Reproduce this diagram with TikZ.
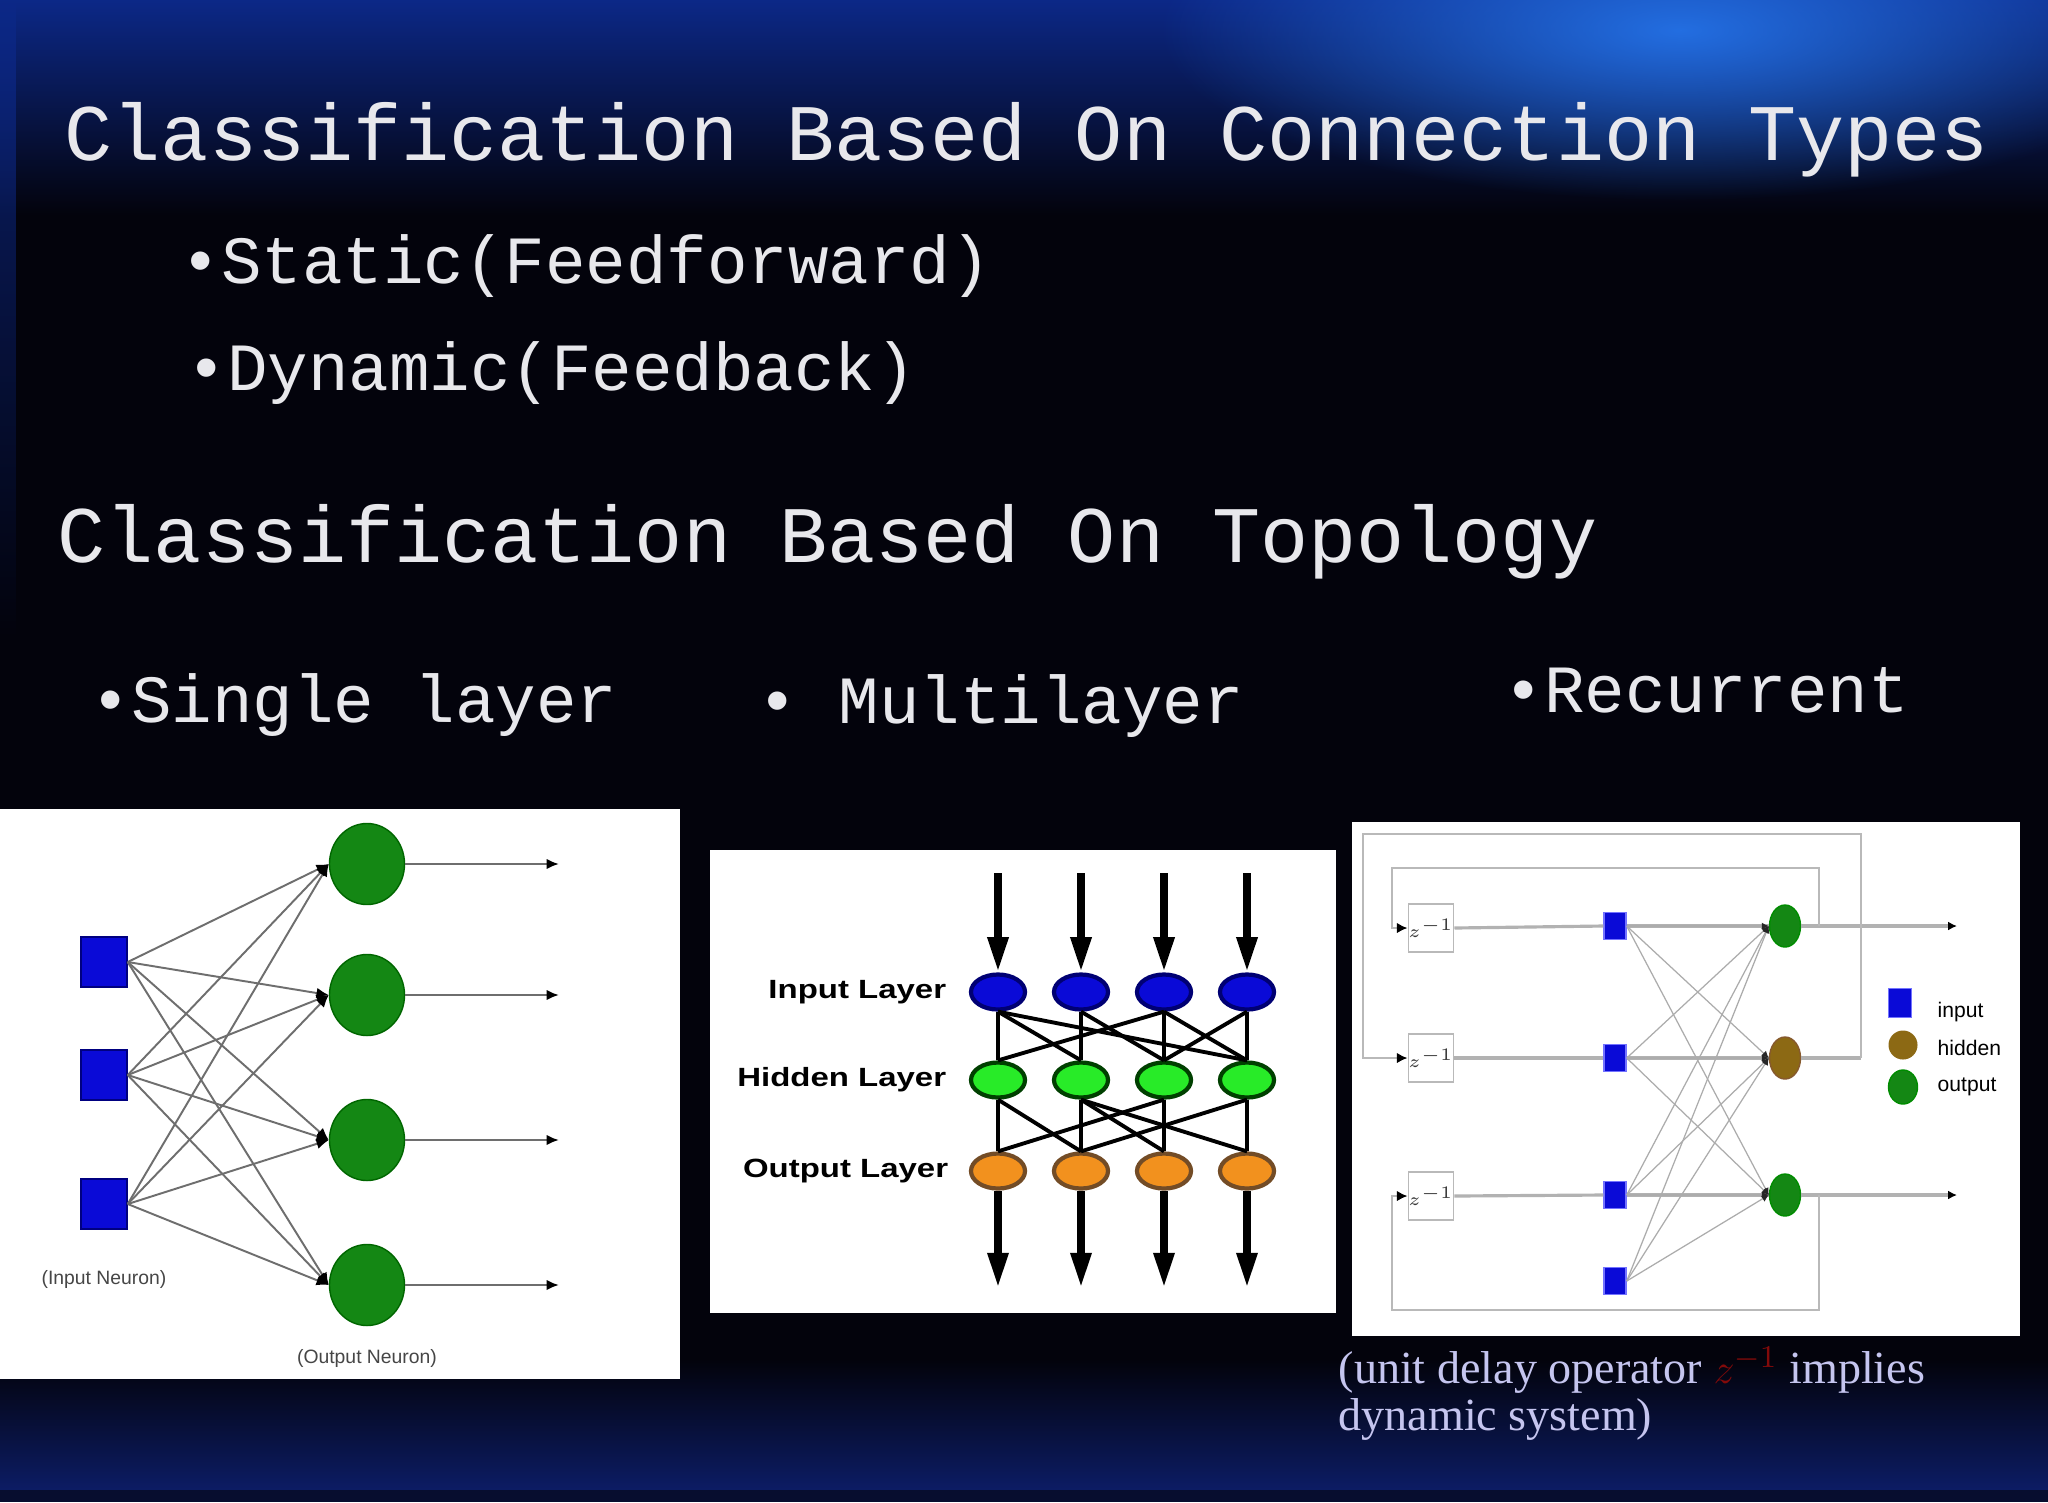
\documentclass[tikz,border=0pt]{standalone}
\usepackage{fontspec}
\usepackage{amsmath}
\usetikzlibrary{shapes,arrows.meta,positioning,calc,fadings}
\setmainfont{Liberation Serif}
\newfontfamily\slidefont{Liberation Mono}
\newfontfamily\figfont{Liberation Sans}
\newfontfamily\layerfont[FakeStretch=1.25]{Liberation Sans}
\definecolor{slidebg}{RGB}{3,3,12}
\definecolor{slideblue}{RGB}{12,40,135}
\definecolor{glowblue}{RGB}{35,110,225}
\definecolor{footblue}{RGB}{12,28,100}
\definecolor{slidetext}{RGB}{232,232,236}
\definecolor{neuronblue}{RGB}{10,10,215}
\definecolor{neurongreen}{RGB}{20,135,20}
\definecolor{hiddengreen}{RGB}{40,235,40}
\definecolor{layerorange}{RGB}{242,145,30}
\definecolor{hiddenbrown}{RGB}{140,105,20}
\definecolor{wiregray}{RGB}{110,110,110}
\definecolor{delayred}{RGB}{130,10,10}
\tikzfading[name=glowfade, inner color=transparent!0, outer color=transparent!100]
\tikzfading[name=stripfade, top color=transparent!20, bottom color=transparent!100]

\begin{document}
\begin{tikzpicture}[x=0.01cm, y=-0.01cm,
    heading/.style={anchor=base west, inner sep=0, text=slidetext, font=\slidefont\fontsize{22.8}{26}\selectfont},
    bulletitem/.style={anchor=base west, inner sep=0, text=slidetext, font=\slidefont\fontsize{19.2}{22}\selectfont},
    inneuron/.style={rectangle, fill=neuronblue, draw=blue!50!black, minimum width=0.46cm, minimum height=0.5cm, inner sep=0},
    outneuron/.style={ellipse, fill=neurongreen, draw=green!40!black, minimum width=0.75cm, minimum height=0.81cm, inner sep=0},
    synapse/.style={draw=wiregray, line width=0.55pt, -{Latex[length=3.5pt,width=3pt,color=black]}},
    axon/.style={draw=wiregray, line width=0.7pt, -{Latex[length=3.5pt,width=3pt,color=black]}},
    figlabel/.style={inner sep=0, text=gray!55!black, font=\figfont\fontsize{5.5}{6}\selectfont},
    layernode/.style={ellipse, minimum width=0.54cm, minimum height=0.35cm, inner sep=0, line width=1.2pt},
    layerlabel/.style={inner sep=0, font=\layerfont\bfseries\fontsize{7.5}{9}\selectfont},
    weight/.style={line width=1.1pt, black},
    flow/.style={line width=2.2pt, black, -{Triangle[length=10pt,width=5.5pt]}},
    delaybox/.style={rectangle, draw=gray!55, fill=white, minimum width=0.41cm, minimum height=0.48cm, inner sep=0, font=\fontsize{4.5}{5}\selectfont, text=gray!45!black},
    rinput/.style={rectangle, fill=neuronblue, draw=blue!55, minimum width=0.22cm, minimum height=0.27cm, inner sep=0},
    rnode/.style={ellipse, minimum width=0.31cm, minimum height=0.42cm, inner sep=0},
    rwire/.style={draw=gray!65, line width=0.35pt, -{Latex[length=2pt,width=2pt,color=gray!30!black]}},
    rrow/.style={draw=gray!60, line width=0.9pt},
    feedback/.style={draw=gray!55, line width=0.7pt, -{Latex[length=3pt,width=3pt,color=black]}},
    keytext/.style={anchor=west, inner sep=0, font=\figfont\fontsize{6}{7}\selectfont},
    caption/.style={anchor=base west, inner sep=0, text=slidetext!85!blue, font=\fontsize{13.1}{15}\selectfont}
]
    \useasboundingbox (0,0) rectangle (2048,1502);

    % Slide background
    \fill[slidebg] (0,0) rectangle (2048,1502);
    \shade[top color=slideblue, bottom color=slidebg] (0,0) rectangle (2048,215);
    \fill[glowblue, path fading=glowfade] (1680,30) ellipse [x radius=520, y radius=170];
    \fill[slideblue, path fading=stripfade] (0,0) rectangle (16,640);
    \shade[top color=slidebg, bottom color=footblue] (0,1360) rectangle (2048,1490);
    \fill[slidebg!60!footblue] (0,1490) rectangle (2048,1502);

    % Headings and bullets
    \node[heading] (conntitle) at (64,160) {Classification Based On Connection Types};
    \node[bulletitem] (static) at (180,283) {•Static(Feedforward)};
    \node[bulletitem] (dynamic) at (186,390) {•Dynamic(Feedback)};
    \node[heading] (topotitle) at (57,562) {Classification Based On Topology};
    \node[bulletitem] (single) at (90,722) {•Single layer};
    \node[bulletitem] (multi) at (757,723) {• Multilayer};
    \node[bulletitem] (recur) at (1503,712) {•Recurrent};

    % Single layer network
    \fill[white] (0,809) rectangle (680,1379);
    \foreach \i/\y in {1/962,2/1075,3/1204}
        \node[inneuron] (in\i) at (104,\y) {};
    \foreach \j/\y in {1/864,2/995,3/1140,4/1285} {
        \node[outneuron] (out\j) at (367,\y) {};
        \coordinate (sink\j) at (559,\y);
    }
    \foreach \i in {1,2,3}
        \foreach \j in {1,...,4}
            \draw[synapse] (in\i.east) -- (out\j.west);
    \foreach \j in {1,...,4}
        \draw[axon] (out\j.east) -- (sink\j);
    \node[figlabel, below=0.4cm of in3] (inlabel) {(Input Neuron)};
    \node[figlabel, below=0.23cm of out4] (outlabel) {(Output Neuron)};

    % Multilayer network
    \fill[white] (710,850) rectangle (1336,1313);
    \foreach \k/\x in {1/998,2/1081,3/1164,4/1247} {
        \node[layernode, fill=neuronblue, draw=blue!45!black] (il\k) at (\x,992) {};
        \node[layernode, fill=hiddengreen, draw=green!25!black] (hl\k) at (\x,1080) {};
        \node[layernode, fill=layerorange, draw=brown!60!black] (ol\k) at (\x,1171) {};
        \coordinate (feed\k) at (\x,873);
        \coordinate (drain\k) at (\x,1288);
    }
    \foreach \k in {1,...,4} {
        \draw[flow] (feed\k) -- (il\k.north);
        \draw[flow] (ol\k.south) -- (drain\k);
    }
    \foreach \a/\b in {1/1,2/2,3/3,4/4,1/2,1/4,2/3,3/1,3/4,4/3}
        \draw[weight] (il\a.south) -- (hl\b.north);
    \foreach \a/\b in {1/1,2/2,3/3,4/4,1/2,2/3,2/4,3/1,4/2}
        \draw[weight] (hl\a.south) -- (ol\b.north);
    \node[layerlabel, left=0.22cm of il1] (inputlabel) {Input Layer};
    \node[layerlabel, left=0.22cm of hl1] (hiddenlabel) {Hidden Layer};
    \node[layerlabel, left=0.2cm of ol1] (outputlabel) {Output Layer};

    % Recurrent network
    \fill[white] (1352,822) rectangle (2020,1336);
    \foreach \i/\y in {1/928,2/1058,3/1196}
        \node[delaybox] (dly\i) at (1431,\y) {$z^{-1}$};
    \foreach \i/\y in {1/926,2/1058,3/1195,4/1281}
        \node[rinput] (rin\i) at (1615,\y) {};
    \node[rnode, fill=neurongreen, draw=green!55!black] (rout1) at (1785,926) {};
    \node[rnode, fill=hiddenbrown, draw=brown!70!black] (rhid) at (1785,1058) {};
    \node[rnode, fill=neurongreen, draw=green!55!black] (rout2) at (1785,1195) {};
    \coordinate (rsink1) at (1957,926);
    \coordinate (rsink2) at (1957,1195);
    \coordinate (tapA) at (1819,926);
    \coordinate (tapB) at (1861,1058);
    \coordinate (tapC) at (1819,1195);

    \foreach \i/\n in {1/rout1,2/rhid,3/rout2} {
        \draw[rrow] (dly\i.east) -- (rin\i.west);
        \draw[rrow] (rin\i.east) -- (\n.west);
    }
    \foreach \i in {1,...,4}
        \foreach \n in {rout1,rhid,rout2}
            \draw[rwire] (rin\i.east) -- (\n.west);
    \draw[rrow, -{Latex[length=2.5pt,width=2.5pt,color=black]}] (rout1.east) -- (rsink1);
    \draw[rrow, -{Latex[length=2.5pt,width=2.5pt,color=black]}] (rout2.east) -- (rsink2);
    \draw[rrow] (rhid.east) -- (tapB);

    % Feedback through the delays
    \draw[feedback] (tapA) |- (1392,868) |- (dly1.west);
    \draw[feedback] (tapB) |- (1363,834) |- (dly2.west);
    \draw[feedback] (tapC) |- (1392,1310) |- (dly3.west);

    % Legend
    \node[rinput, minimum width=0.23cm, minimum height=0.29cm] (keyin) at (1900,1003) {};
    \node[rnode, fill=hiddenbrown, minimum width=0.29cm, minimum height=0.29cm] (keyhid) at (1903,1045) {};
    \node[rnode, fill=neurongreen, draw=green!55!black, minimum width=0.29cm, minimum height=0.34cm] (keyout) at (1903,1087) {};
    \node[keytext] (keyintext) at (1937,1012) {input};
    \node[keytext] (keyhidtext) at (1937,1048) {hidden};
    \node[keytext] (keyouttext) at (1937,1087) {output};

    % Caption under the recurrent net
    \node[caption] (note1) at (1338,1383) {(unit delay operator {\color{delayred}$z^{-1}$} implies};
    \node[caption] (note2) at (1338,1430) {dynamic system)};
\end{tikzpicture}
\end{document}
